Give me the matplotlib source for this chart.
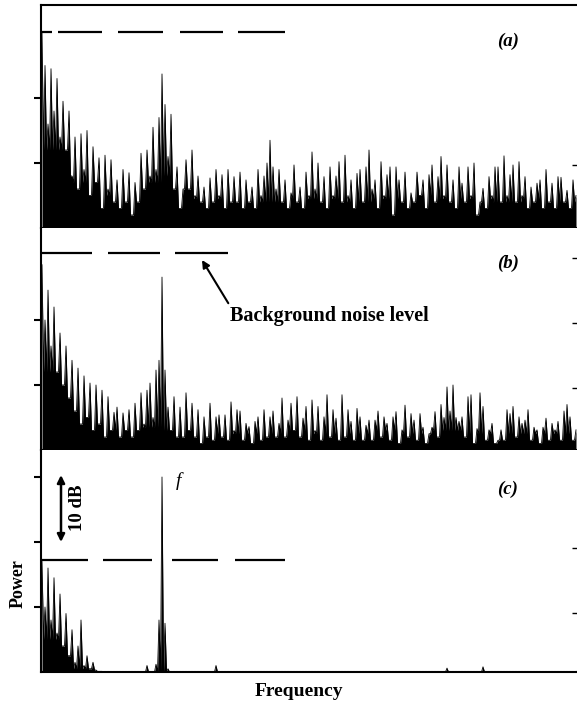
import matplotlib
matplotlib.use('Agg')
import matplotlib.pyplot as plt
import numpy as np

plt.rcParams['font.family'] = ['Liberation Serif', 'DejaVu Serif']
plt.rcParams['lines.scale_dashes'] = False

# Spike heights, dB above the panel baseline, one value per frequency bin
power_a = [30, 25, 16, 24.5, 18, 23, 14, 19.5, 12, 18,
           8, 14, 6, 14.5, 9, 15, 5, 12.5, 7, 10.8,
           3, 11.2, 6, 10.5, 4, 7.4, 3, 9, 4, 8.5,
           2, 7, 4, 11.5, 6, 12, 8, 15.5, 9, 17,
           23.7, 19, 11, 17.5, 6, 9.4, 3, 6, 10.5, 6,
           12, 5, 8, 4, 6.3, 3, 7.7, 4, 9, 5,
           8.2, 3, 9, 4, 7.9, 4, 8.6, 3, 7.4, 4,
           6.3, 3, 9, 5, 8, 10, 13.5, 9.4, 6, 9,
           4, 7.4, 3, 5.4, 9.7, 4, 6.3, 3, 8.6, 5,
           11.7, 6, 10, 4, 7.9, 3, 9.4, 5, 8, 10.2,
           4, 11.2, 5, 7.4, 3, 8.4, 9, 4, 9.4, 12,
           6, 7.4, 3, 10.2, 5, 8.2, 9.4, 2, 9.4, 7.4,
           4, 8.6, 3, 5.4, 4, 8.6, 5, 7.4, 3, 8.2,
           9.7, 4, 7.9, 11, 5, 9.7, 4, 7.4, 3, 9.4,
           6.9, 4, 9.4, 5, 10, 2, 4, 6.1, 3, 7.9,
           5, 9.4, 9.4, 4, 11.1, 5, 8.2, 9.7, 4, 10.2,
           5, 7.9, 3, 6.3, 4, 6.9, 7.4, 3, 9, 4,
           6.9, 3, 7.9, 7.8, 4, 5.8, 3, 7.4, 5]

power_b = [28.5, 20, 24.6, 16, 22, 12, 18, 10, 16, 8,
           13.8, 6, 12.6, 4, 11.4, 5, 10.3, 3, 10, 4,
           9.2, 2, 8.2, 3, 5.8, 6.6, 2, 5.7, 3, 6.2,
           2, 7.2, 3, 8.8, 4, 9.2, 10.3, 5, 12.3, 13.8,
           26.6, 12.3, 6.6, 3, 8.2, 2, 6.6, 2, 8.8, 3,
           7.2, 2, 6.2, 1, 5.1, 2, 7.2, 1.5, 5.1, 5.4,
           2, 5.4, 1.5, 7.4, 3, 6.2, 6, 1.5, 4.1, 3.6,
           1, 4.4, 5.1, 1.5, 6.2, 2, 5.1, 6, 2, 4.1,
           8, 2, 4.6, 7.2, 3, 8.2, 2, 4.9, 6.7, 1.5,
           7.7, 3, 6.7, 1.5, 5.1, 8.5, 2, 6.2, 4.9, 1.5,
           8.5, 2, 6.2, 4.4, 1.5, 6.4, 5.1, 1.5, 3.8, 4.6,
           1.5, 4.6, 6, 2, 5.1, 4.1, 1.5, 5.1, 5.9, 1,
           3.1, 6.9, 2, 5.6, 4.6, 1.5, 5.6, 3.5, 1, 2.5,
           3.5, 5.9, 2, 7, 5, 9.7, 6, 10, 5, 4.4,
           5.1, 2, 8.2, 8.5, 1, 3.3, 8.8, 6.7, 1.5, 3.1,
           4.1, 1, 1.5, 3.1, 1.5, 6.2, 5.6, 6.7, 2, 5.1,
           4.1, 4.6, 6.2, 1.5, 3.5, 3.1, 1, 3.5, 4.9, 1.5,
           4.1, 3.1, 4.4, 1.5, 6, 7, 5.1, 1.5, 3.1]

power_c = [17, 10, 16, 8, 14.5, 6, 12, 4, 9, 2.5,
           6.5, 1.5, 4, 8, 1, 2.5, 0.5, 1.5, 0.3, 0.1,
           0.1, 0.1, 0.1, 0.1, 0.1, 0.1, 0.1, 0.1, 0.1, 0.1,
           0.1, 0.1, 0.1, 0.1, 0.1, 1.0, 0.1, 0.1, 1.2, 8,
           30, 7.5, 0.5, 0.1, 0.1, 0.1, 0.1, 0.1, 0.1, 0.1,
           0.1, 0.1, 0.1, 0.1, 0.1, 0.1, 0.1, 0.1, 1.0, 0.1,
           0.1, 0.1, 0.1, 0.1, 0.1, 0.1, 0.1, 0.1, 0.1, 0.1,
           0.1, 0.1, 0.1, 0.1, 0.1, 0.1, 0.1, 0.1, 0.1, 0.1,
           0.1, 0.1, 0.1, 0.1, 0.1, 0.1, 0.1, 0.1, 0.1, 0.1,
           0.1, 0.1, 0.1, 0.1, 0.1, 0.1, 0.1, 0.1, 0.1, 0.1,
           0.1, 0.1, 0.1, 0.1, 0.1, 0.1, 0.1, 0.1, 0.1, 0.1,
           0.1, 0.1, 0.1, 0.1, 0.1, 0.1, 0.1, 0.1, 0.1, 0.1,
           0.1, 0.1, 0.1, 0.1, 0.1, 0.1, 0.1, 0.1, 0.1, 0.1,
           0.1, 0.1, 0.1, 0.1, 0.1, 0.6, 0.1, 0.1, 0.1, 0.1,
           0.1, 0.1, 0.1, 0.1, 0.1, 0.1, 0.1, 0.8, 0.1, 0.1,
           0.1, 0.1, 0.1, 0.1, 0.1, 0.1, 0.1, 0.1, 0.1, 0.1,
           0.1, 0.1, 0.1, 0.1, 0.1, 0.1, 0.1, 0.1, 0.1, 0.1,
           0.1, 0.1, 0.1, 0.1, 0.1, 0.1, 0.1, 0.1, 0.1]

# level of the solid black floor between spikes, dB, one value per 10 bins
floor_a = [12, 7, 5, 7, 8, 4.5, 4.5, 4, 4.5, 4.5, 4, 4.5, 5, 4.5, 4.5, 4, 4.5, 4]
floor_b = [12, 6, 3, 3.5, 3, 2.5, 2.5, 2.5, 3, 2.5, 2.5, 3, 2.5, 3, 2.5, 2.5, 2.5, 2.5]
floor_c = [5, 0.5, 0, 0, 0, 0, 0, 0, 0, 0, 0, 0, 0, 0, 0, 0, 0, 0]

spectra = [power_a, power_b, power_c]
floors = [floor_a, floor_b, floor_c]
noise_level = [30.2, 30.3, 17.2]          # background noise level, dB
panel_labels = ['(a)', '(b)', '(c)']
left_ticks = [[10, 20], [10, 20], [10, 20, 30]]
right_ticks = [[9.7], [9.5, 19.5, 29.5], [9.1, 19.1]]

# dash patterns of the noise level lines, in pixels (on, off, on, ...)
dash_px = [(10, 6, 44, 16, 45, 17, 43, 15, 47, 100),
           (50, 16, 52, 15, 53, 100),
           (46, 15, 49, 20, 46, 17, 50, 100)]
dash_end_px = [285, 228, 285]

W, H = 577, 706
PX_PER_DB = 6.5
fig = plt.figure(figsize=(W / 100, H / 100), dpi=100)

tops = [5, 228, 450]
bottoms = [228, 450, 672]
x_left, x_right = 41, 578


def idx(px):
    # pixel column -> frequency bin (bins are 3 px apart, first at x=42)
    return (px - 42) / 3.0


def trace(peaks, floor_seg):
    # spikes at each bin with the floor level in between
    peaks = np.asarray(peaks, dtype=float)
    fl = np.repeat(floor_seg, 10)[:len(peaks)]
    trough = np.minimum(fl, np.minimum(peaks, np.roll(peaks, -1)))
    y = np.empty(2 * len(peaks) - 1)
    y[0::2] = peaks
    y[1::2] = trough[:-1]
    x = np.arange(len(y)) / 2.0
    return x, y


axes = []
for k in range(3):
    ax = fig.add_axes([x_left / W, 1 - bottoms[k] / H,
                       (x_right - x_left) / W, (bottoms[k] - tops[k]) / H])
    freq, vals = trace(spectra[k], floors[k])
    ax.fill_between(freq, 0, vals, color='k', lw=0)
    ax.plot(freq, vals, color='k', lw=0.6)

    ax.set_xlim(idx(x_left), idx(x_right))
    ax.set_ylim(0, (bottoms[k] - tops[k]) / PX_PER_DB)

    # dashed background noise level
    pattern = tuple(v * 0.72 for v in dash_px[k])
    ax.plot([idx(42), idx(dash_end_px[k])], [noise_level[k]] * 2,
            color='k', lw=1.6, linestyle=(0, pattern), dash_capstyle='butt')

    for side in ['top', 'right']:
        ax.spines[side].set_visible(False)
    if k == 0:
        ax.spines['top'].set_visible(True)
    for side in ['top', 'left', 'bottom']:
        ax.spines[side].set_linewidth(1.5)

    ax.set_xticks([])
    ax.set_yticks(left_ticks[k])
    ax.set_yticklabels([])
    ax.tick_params(axis='y', direction='out', length=5, width=1.5)

    rax = ax.twinx()
    rax.set_ylim(ax.get_ylim())
    rax.set_yticks(right_ticks[k])
    rax.set_yticklabels([])
    rax.tick_params(axis='y', direction='in', length=4, width=1.0)
    for side in rax.spines:
        rax.spines[side].set_visible(False)
    axes.append(ax)

ax_a, ax_b, ax_c = axes

# panel labels
label_y = [41, 263, 489]
for k in range(3):
    fig.text(508 / W, 1 - label_y[k] / H, panel_labels[k], fontsize=13.5,
             style='italic', fontweight='bold', ha='center', va='center')

# arrow to the noise level in (b)
ax_b.annotate('Background noise level',
              xy=(idx(202), (450 - 260) / PX_PER_DB),
              xytext=(idx(230), (450 - 316) / PX_PER_DB),
              fontsize=14.5, fontweight='bold', ha='left', va='center',
              arrowprops=dict(arrowstyle='-|>', color='k', lw=1.5,
                              mutation_scale=11, relpos=(0, 1),
                              shrinkA=0, shrinkB=0))

# 10 dB scale arrow and signal frequency marker in (c)
ax_c.annotate('', xy=(idx(61), 30.3), xytext=(idx(61), 20.0),
              arrowprops=dict(arrowstyle='<|-|>', color='k', lw=1.8,
                              mutation_scale=11, shrinkA=0, shrinkB=0))
fig.text(78 / W, 1 - 508 / H, '10 dB', rotation=90, fontsize=13.5,
         fontweight='bold', ha='center', va='center')
fig.text(178 / W, 1 - 481 / H, 'f', fontsize=14, style='italic',
         ha='center', va='center')

fig.text(18 / W, 1 - 584 / H, 'Power', rotation=90, fontsize=13,
         fontweight='bold', ha='center', va='center')
fig.text(299 / W, 1 - 691 / H, 'Frequency', fontsize=14,
         fontweight='bold', ha='center', va='center')

fig.savefig('out.png', dpi=100)
